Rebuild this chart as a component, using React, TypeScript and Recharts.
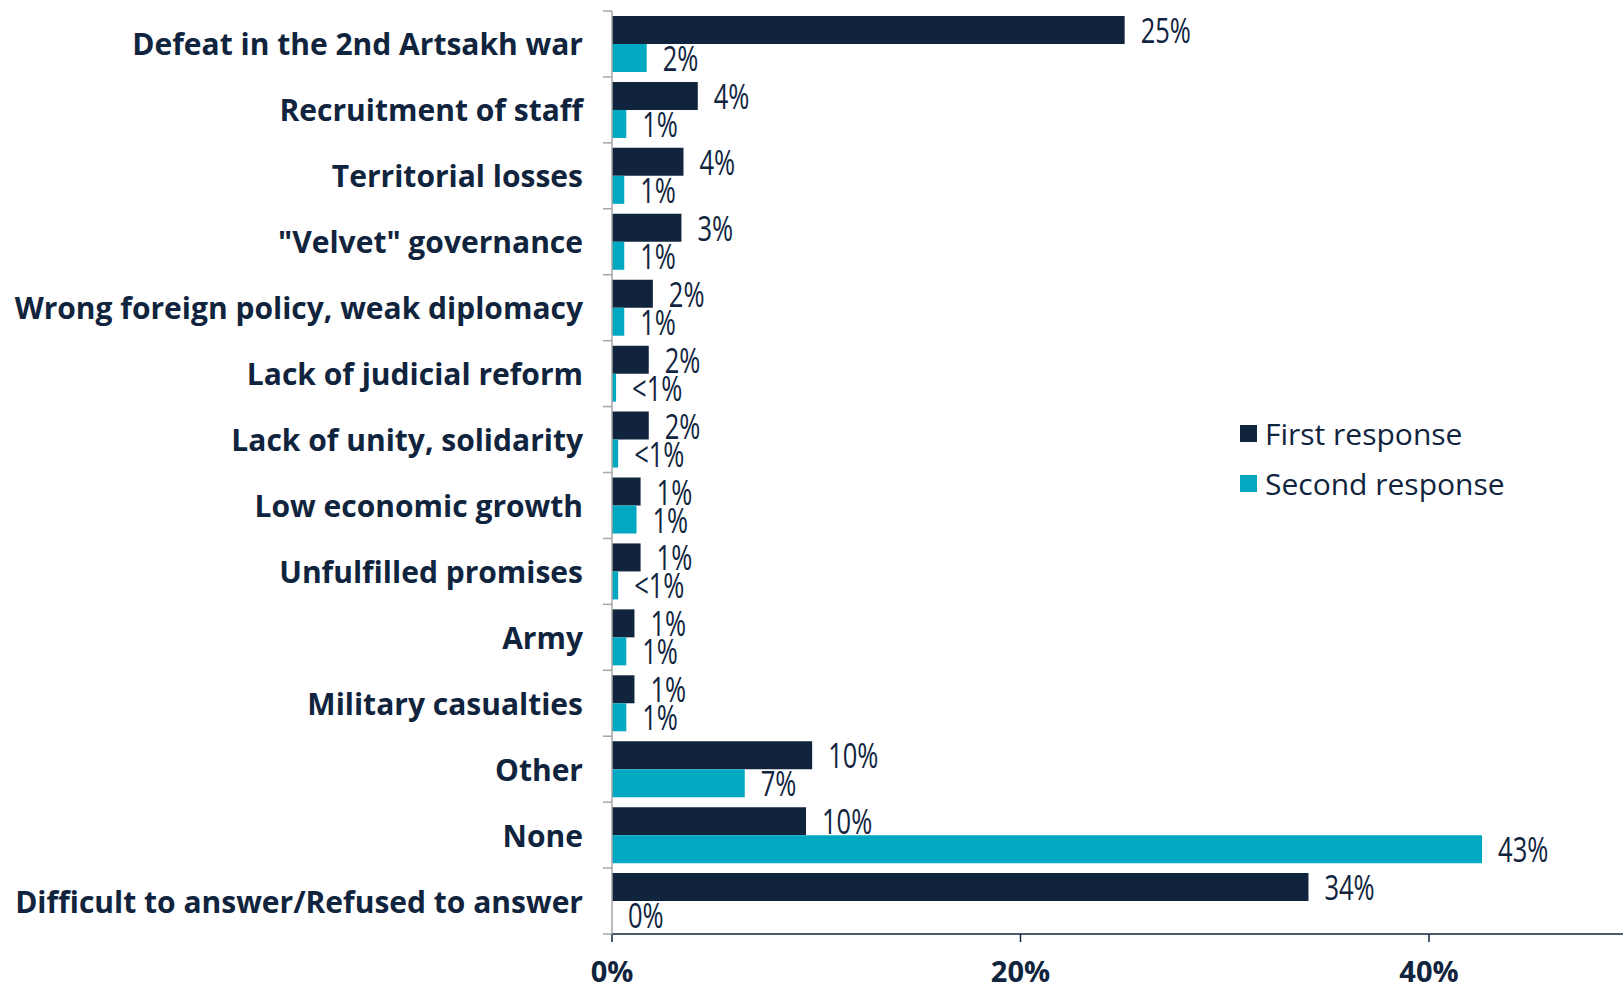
import { Bar, BarChart, LabelList, XAxis, YAxis } from "recharts";

const categories = [
  "Defeat in the 2nd Artsakh war",
  "Recruitment of staff",
  "Territorial losses",
  "\"Velvet\" governance",
  "Wrong foreign policy, weak diplomacy",
  "Lack of judicial reform",
  "Lack of unity, solidarity",
  "Low economic growth",
  "Unfulfilled promises",
  "Army",
  "Military casualties",
  "Other",
  "None",
  "Difficult to answer/Refused to answer",
];

const firstValues = [25.1, 4.2, 3.5, 3.4, 2.0, 1.8, 1.8, 1.4, 1.4, 1.1, 1.1, 9.8, 9.5, 34.1];
const secondValues = [1.7, 0.7, 0.6, 0.6, 0.6, 0.2, 0.3, 1.2, 0.3, 0.7, 0.7, 6.5, 42.6, 0];
const firstLabels = ["25%", "4%", "4%", "3%", "2%", "2%", "2%", "1%", "1%", "1%", "1%", "10%", "10%", "34%"];
const secondLabels = ["2%", "1%", "1%", "1%", "1%", "<1%", "<1%", "1%", "<1%", "1%", "1%", "7%", "43%", "0%"];
const xTicks = [0, 20, 40];

const NAVY = "#10243e";
const CYAN = "#00a8c2";
const AXIS_GREY = "#a6a6a6";

const W = 1623;
const H = 984;
const TOP = 11;
const XAXIS_H = 50;
const Y_AXIS_W = 612;
const TICK_SIZE = 8;
const TICK_MARGIN = 21;
const BAND = (H - TOP - XAXIS_H) / categories.length;

const data = categories.map((name, i) => ({
  name,
  first: firstValues[i],
  second: secondValues[i],
  firstLabel: firstLabels[i],
  secondLabel: secondLabels[i],
}));

function CategoryTick(props: any) {
  const { x, y, payload, index } = props;
  const axisX = x + TICK_SIZE + TICK_MARGIN;
  return (
    <g>
      <line x1={axisX - 9} x2={axisX} y1={y - BAND / 2} y2={y - BAND / 2} stroke={AXIS_GREY} strokeWidth={1.5} />
      {index === categories.length - 1 && (
        <line x1={axisX - 9} x2={axisX} y1={y + BAND / 2} y2={y + BAND / 2} stroke={AXIS_GREY} strokeWidth={1.5} />
      )}
      <text
        x={x}
        y={y}
        textAnchor="end"
        dominantBaseline="central"
        fill={NAVY}
        fontFamily="'Open Sans', sans-serif"
        fontWeight={700}
        fontSize={30}
      >
        {payload.value}
      </text>
    </g>
  );
}

// narrow value labels: the source font is a condensed face, so squeeze a regular one
function ValueLabel(props: any) {
  const { x, y, width, height, value } = props;
  const tx = x + width + 16;
  const ty = y + height / 2;
  return (
    <text
      transform={`translate(${tx},${ty}) scale(0.75,1)`}
      dominantBaseline="central"
      fill={NAVY}
      fontFamily="'Open Sans', sans-serif"
      fontSize={34}
    >
      {value}
    </text>
  );
}

const legendItems = [
  { label: "First response", color: NAVY },
  { label: "Second response", color: CYAN },
];

export default function App() {
  return (
    <div style={{ position: "absolute", left: 0, top: 0, width: W, height: H, background: "#fff", overflow: "hidden" }}>
      <BarChart
        width={W}
        height={H}
        data={data}
        layout="vertical"
        margin={{ top: TOP, right: 0, bottom: 0, left: 0 }}
        barCategoryGap={5}
        barGap={0}
      >
        <XAxis
          type="number"
          domain={[0, 49.5]}
          ticks={xTicks}
          tickFormatter={(v) => `${v}%`}
          height={XAXIS_H}
          axisLine={{ stroke: NAVY, strokeWidth: 1.5 }}
          tickLine={{ stroke: NAVY, strokeWidth: 1.5 }}
          tickSize={8}
          tickMargin={19}
          tick={{ fill: NAVY, fontSize: 29, fontWeight: 700, fontFamily: "'Open Sans', sans-serif" }}
        />
        <YAxis
          type="category"
          dataKey="name"
          width={Y_AXIS_W}
          axisLine={{ stroke: AXIS_GREY, strokeWidth: 1.5 }}
          tickLine={false}
          tickSize={TICK_SIZE}
          tickMargin={TICK_MARGIN}
          interval={0}
          tick={<CategoryTick />}
        />
        <Bar dataKey="first" name="First response" fill={NAVY} barSize={28} isAnimationActive={false}>
          <LabelList dataKey="firstLabel" content={<ValueLabel />} />
        </Bar>
        <Bar
          dataKey="second"
          name="Second response"
          fill={CYAN}
          barSize={28}
          minPointSize={0.01}
          isAnimationActive={false}
        >
          <LabelList dataKey="secondLabel" content={<ValueLabel />} />
        </Bar>
      </BarChart>
      <div
        style={{
          position: "absolute",
          left: 1240,
          top: 408,
          fontFamily: "'Open Sans', sans-serif",
          fontSize: 30,
          color: NAVY,
        }}
      >
        {legendItems.map((it) => (
          <div key={it.label} style={{ display: "flex", alignItems: "center", height: 50 }}>
            <span style={{ width: 17, height: 17, background: it.color, marginRight: 8, display: "inline-block" }} />
            <span>{it.label}</span>
          </div>
        ))}
      </div>
    </div>
  );
}
